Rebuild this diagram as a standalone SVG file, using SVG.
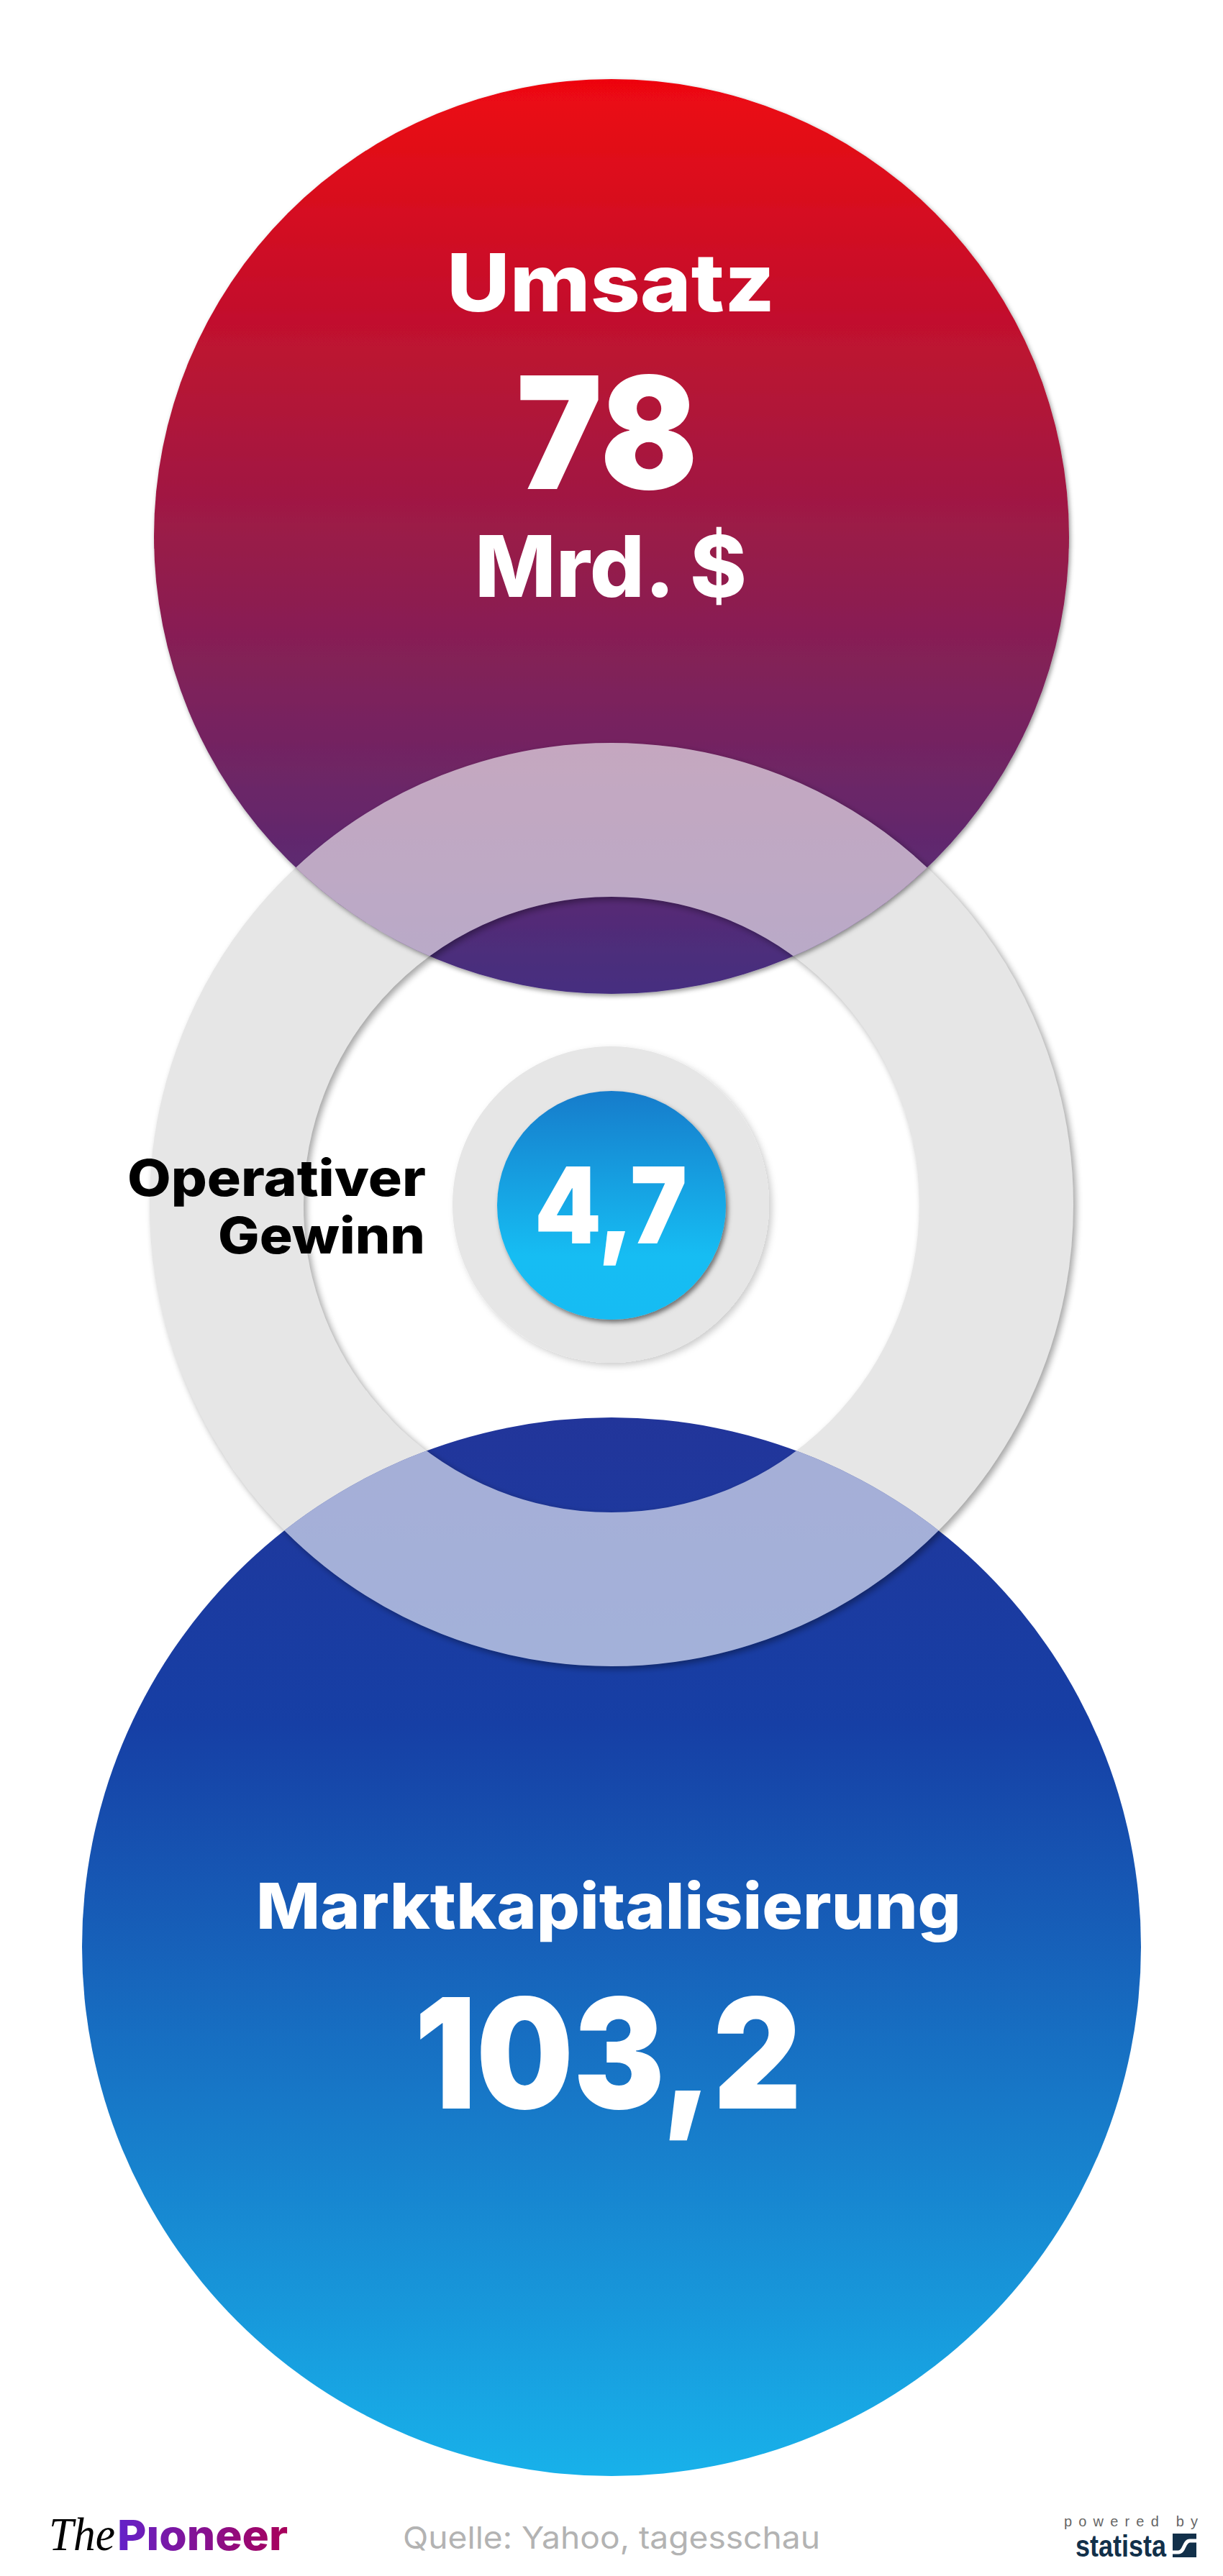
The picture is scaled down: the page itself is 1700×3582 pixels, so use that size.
<svg xmlns="http://www.w3.org/2000/svg" width="1700" height="3582" viewBox="0 0 1700 3582">
<defs>
<linearGradient id="gTop" gradientUnits="userSpaceOnUse" x1="0" y1="110" x2="0" y2="1382"><stop offset="0" stop-color="#ee0610"/><stop offset="1" stop-color="#452f80"/></linearGradient>
<linearGradient id="gBottom" gradientUnits="userSpaceOnUse" x1="0" y1="1971" x2="0" y2="3443"><stop offset="0" stop-color="#22359a"/><stop offset="0.29" stop-color="#163fa5"/><stop offset="1" stop-color="#18b1ea"/></linearGradient>
<linearGradient id="gInner" gradientUnits="userSpaceOnUse" x1="0" y1="1518" x2="0" y2="1835"><stop offset="0" stop-color="#177ccb"/><stop offset="0.72" stop-color="#18bdf3"/><stop offset="1" stop-color="#16bcf3"/></linearGradient>
<linearGradient id="gPioneer" gradientUnits="userSpaceOnUse" x1="166" y1="0" x2="398" y2="0"><stop offset="0" stop-color="#6422c8"/><stop offset="1" stop-color="#a8005a"/></linearGradient>
<clipPath id="cTop"><circle cx="850" cy="746" r="636"/></clipPath>
<clipPath id="cBottom"><circle cx="850" cy="2707" r="736"/></clipPath>
<filter id="fCircle" filterUnits="userSpaceOnUse" x="0" y="0" width="1700" height="3582"><feDropShadow dx="2" dy="3" stdDeviation="3" flood-color="#000" flood-opacity="0.4"/></filter>
<filter id="fInner" filterUnits="userSpaceOnUse" x="0" y="0" width="1700" height="3582"><feDropShadow dx="3" dy="4" stdDeviation="3" flood-color="#000" flood-opacity="0.5"/></filter>
<filter id="fSoft" filterUnits="userSpaceOnUse" x="0" y="0" width="1700" height="3582"><feDropShadow dx="4" dy="4" stdDeviation="5" flood-color="#000" flood-opacity="0.2"/></filter>
<filter id="fRingShadow" filterUnits="userSpaceOnUse" x="0" y="0" width="1700" height="3582">
<feGaussianBlur in="SourceAlpha" stdDeviation="5" result="b"/>
<feOffset in="b" dx="4" dy="4" result="o"/>
<feComponentTransfer in="o" result="s"><feFuncA type="linear" slope="0.36"/></feComponentTransfer>
<feComposite in="s" in2="SourceAlpha" operator="out"/>
</filter>
</defs>
<style>
.w{font-family:Inter,"Liberation Sans",sans-serif;font-weight:800;fill:#fff}
.n{font-family:Inter,"Liberation Sans",sans-serif;font-weight:900;fill:#fff}
.k{font-family:Inter,"Liberation Sans",sans-serif;font-weight:800;fill:#000}
.ring{fill:none;stroke-width:214}
</style>
<rect width="1700" height="3582" fill="#fff"/>
<g id="ring-base"><circle class="ring" cx="850" cy="1675" r="535" stroke="#e6e6e6"/></g>
<g id="marktkapitalisierung-circle"><circle cx="850" cy="2707" r="736" fill="url(#gBottom)"/></g>
<g id="umsatz-circle"><circle cx="850" cy="746" r="636" fill="url(#gTop)" filter="url(#fCircle)"/></g>
<g id="gewinn-ring">
<circle class="ring" cx="850" cy="1675" r="535" stroke="#000" filter="url(#fRingShadow)"/>
<g clip-path="url(#cTop)"><circle class="ring" cx="850" cy="1675" r="535" stroke="#e8dfe8" stroke-opacity="0.7"/></g>
<g clip-path="url(#cBottom)"><circle class="ring" cx="850" cy="1675" r="535" stroke="#dee2f1" stroke-opacity="0.7"/></g>
</g>
<g id="gewinn-circle">
<circle cx="849" cy="1675" r="220" fill="#e6e6e6" filter="url(#fSoft)"/>
<circle cx="850" cy="1676" r="159" fill="url(#gInner)" filter="url(#fInner)"/>
<text class="n" x="743" y="1729" font-size="147" textLength="212" lengthAdjust="spacingAndGlyphs">4,7</text>
</g>
<g id="umsatz-label">
<text class="w" x="621" y="433" font-size="111" textLength="456" lengthAdjust="spacingAndGlyphs">Umsatz</text>
<text class="n" x="718" y="680" font-size="217" textLength="252" lengthAdjust="spacingAndGlyphs">78</text>
<text class="w" x="660" y="830" font-size="118" textLength="378" lengthAdjust="spacingAndGlyphs">Mrd. $</text>
</g>
<g id="gewinn-label">
<text class="k" x="177" y="1663" font-size="70" textLength="415" lengthAdjust="spacingAndGlyphs">Operativer</text>
<text class="k" x="303" y="1743" font-size="70" textLength="288" lengthAdjust="spacingAndGlyphs">Gewinn</text>
</g>
<g id="markt-label">
<text class="w" x="356" y="2682" font-size="88" textLength="980" lengthAdjust="spacingAndGlyphs">Marktkapitalisierung</text>
<text class="n" x="576" y="2932" font-size="213" textLength="538" lengthAdjust="spacingAndGlyphs">103,2</text>
</g>
<g id="footer">
<text x="68" y="3546" font-family="'Liberation Serif',serif" font-style="italic" font-size="66" fill="#000" textLength="92" lengthAdjust="spacingAndGlyphs">The</text>
<text x="163" y="3546" font-family="Inter,'Liberation Sans',sans-serif" font-weight="800" font-size="58" fill="url(#gPioneer)" textLength="237" lengthAdjust="spacingAndGlyphs">Pıoneer</text>
<text x="560" y="3544" font-family="Inter,'Liberation Sans',sans-serif" font-size="43" fill="#b3b3b3" textLength="580" lengthAdjust="spacingAndGlyphs">Quelle: Yahoo, tagesschau</text>
<text x="1479" y="3513" font-family="'Liberation Sans',sans-serif" font-size="20" fill="#666" textLength="186" lengthAdjust="spacing">powered by</text>
<text x="1495" y="3555" font-family="'Liberation Sans',sans-serif" font-weight="700" font-size="42" fill="#12304a" textLength="126" lengthAdjust="spacingAndGlyphs">statista</text>
<rect x="1630" y="3523" width="33" height="33" fill="#12304a"/>
<path d="M1630 3549 H1638 C1647 3549 1645 3533 1654 3533 H1663" fill="none" stroke="#fff" stroke-width="5"/>
</g>
</svg>
